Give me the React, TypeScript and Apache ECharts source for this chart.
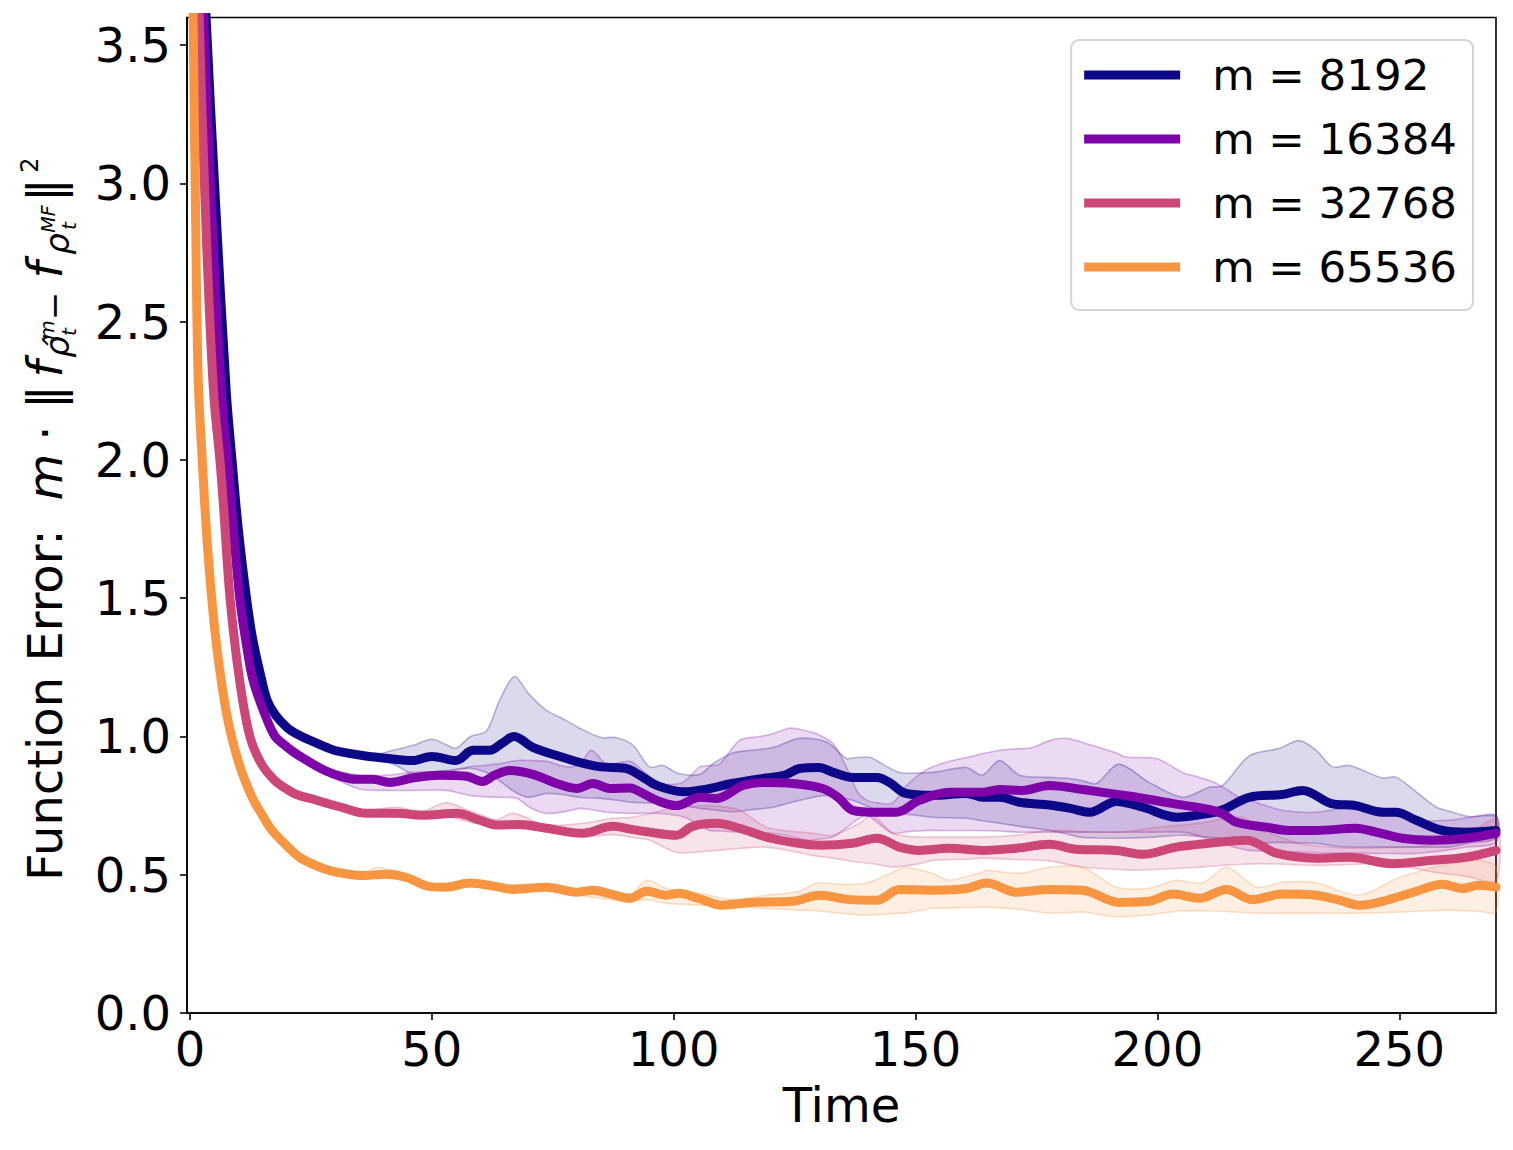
import React, { useEffect, useRef } from "react";
import * as echarts from "echarts";

// ---------- data ----------
const SERIES_NAMES = ["m = 8192", "m = 16384", "m = 32768", "m = 65536"];
const COLORS = ["#0d0887", "#7e03a8", "#cc4778", "#f89540"];
const X_TICKS = [0, 50, 100, 150, 200, 250];
const Y_TICKS = [0, 0.5, 1, 1.5, 2, 2.5, 3, 3.5];

// mean curves: [time, error]
const MEAN_8192 = [
  [0, 5.0], [2, 4.15], [3.35, 3.6], [5.3, 2.93], [7.5, 2.25], [8.7, 2.0], [10, 1.75], [11.7, 1.5],
  [13, 1.35], [14.9, 1.2], [16, 1.13], [17.6, 1.08], [20.2, 1.03], [22, 1.01], [25, 0.985],
  [29, 0.955], [31, 0.945], [36, 0.93], [41, 0.92], [46, 0.913], [50, 0.928], [55, 0.913],
  [58.5, 0.95], [62, 0.95], [64.5, 0.975], [67, 1.0], [71, 0.96], [77, 0.925], [82, 0.9],
  [85, 0.89], [90, 0.885], [93, 0.86], [96.5, 0.823], [102, 0.8], [107, 0.81], [112, 0.83],
  [119, 0.85], [123, 0.86], [126, 0.884], [130, 0.888], [133, 0.87], [137, 0.852], [142, 0.852],
  [144.6, 0.834], [148, 0.794], [153.5, 0.787], [160.5, 0.794], [164, 0.78], [167.4, 0.78],
  [171.5, 0.762], [177.7, 0.752], [182, 0.74], [186, 0.726], [191.5, 0.765], [197, 0.744],
  [204, 0.708], [210, 0.72], [213.5, 0.735], [219, 0.78], [225.8, 0.79], [230, 0.805],
  [236, 0.757], [241, 0.75], [246.5, 0.726], [249.3, 0.726], [253.5, 0.697], [259, 0.66],
  [264, 0.654], [270, 0.66],
];
const MEAN_16384 = [
  [0, 5.0], [1.5, 4.25], [2.85, 3.6], [4.4, 2.93], [6.6, 2.22], [7.8, 2.0], [9, 1.75], [10.3, 1.5],
  [11.7, 1.33], [13.1, 1.2], [15.5, 1.08], [17.6, 1.0], [19.5, 0.97], [21.7, 0.94], [24.5, 0.91],
  [27.9, 0.877], [31.3, 0.855], [34.4, 0.845], [37.8, 0.845], [41.3, 0.834], [46, 0.85],
  [51.6, 0.86], [57.2, 0.856], [60.5, 0.837], [63, 0.86], [66.1, 0.877], [70.9, 0.863],
  [75.8, 0.83], [80, 0.812], [83.3, 0.83], [86.8, 0.812], [91, 0.814], [93, 0.8], [96.5, 0.769],
  [100.6, 0.75], [105.4, 0.78], [108.9, 0.776], [114.3, 0.823], [119.2, 0.834], [124.6, 0.83],
  [130.8, 0.812], [134, 0.78], [137, 0.733], [142, 0.726], [146, 0.726], [150.8, 0.769],
  [157, 0.798], [163.8, 0.798], [167.4, 0.808], [172.1, 0.805], [177.7, 0.823], [184.5, 0.808],
  [194.8, 0.783], [203, 0.758], [210.7, 0.736], [213.5, 0.72], [216.3, 0.69], [222.5, 0.672],
  [227.3, 0.66], [232.8, 0.66], [241, 0.668], [245.2, 0.654], [250.6, 0.632], [256.8, 0.625],
  [263.8, 0.632], [270, 0.65],
];
const MEAN_32768 = [
  [0, 5.0], [1, 4.3], [2, 3.55], [3, 3.0], [4, 2.55], [5, 2.22], [6.2, 2.0], [7, 1.82], [8.3, 1.5],
  [10.3, 1.2], [12.4, 1.0], [14.8, 0.9], [17.6, 0.84], [20, 0.81], [22, 0.79], [25.1, 0.775],
  [28, 0.76], [31.3, 0.744], [36.5, 0.722], [42.7, 0.722], [48.1, 0.715], [55.2, 0.722],
  [60, 0.697], [63.4, 0.68], [68.2, 0.682], [73.7, 0.668], [81.2, 0.65], [87.4, 0.675],
  [91, 0.665], [95, 0.654], [100.6, 0.643], [103.9, 0.675], [108.9, 0.686], [113.6, 0.668],
  [119.2, 0.636], [124.6, 0.617], [130.2, 0.607], [137, 0.614], [142, 0.632], [146.7, 0.6],
  [150.8, 0.588], [157, 0.596], [163.8, 0.588], [170.9, 0.596], [177.7, 0.61], [183.2, 0.592],
  [191.5, 0.588], [197, 0.574], [203.9, 0.6], [210.7, 0.614], [218.4, 0.625], [224.6, 0.578],
  [232.8, 0.56], [239.7, 0.563], [248.6, 0.54], [256.8, 0.552], [263.8, 0.563], [270, 0.588],
];
const MEAN_65536 = [
  [0, 4.5], [0.66, 3.6], [1.14, 2.93], [1.7, 2.3], [2.55, 2.0], [3.5, 1.72], [4.5, 1.5],
  [5.5, 1.33], [6.5, 1.2], [7.5, 1.09], [8.6, 1.0], [10, 0.91], [11.4, 0.84], [13, 0.775],
  [14.8, 0.72], [17, 0.66], [20.3, 0.6], [22.5, 0.565], [25.1, 0.54], [28, 0.52], [31, 0.507],
  [35.8, 0.497], [40.7, 0.502], [44.8, 0.49], [49.6, 0.457], [53, 0.455], [57.8, 0.47],
  [63.4, 0.457], [66.8, 0.447], [73.7, 0.455], [80, 0.437], [83.3, 0.444], [87, 0.43],
  [91, 0.415], [94.4, 0.44], [98.5, 0.426], [101, 0.433], [105, 0.415], [110, 0.39],
  [115.7, 0.4], [124.6, 0.404], [130.2, 0.426], [136.4, 0.41], [142, 0.408], [146.7, 0.447],
  [153.5, 0.444], [160.5, 0.45], [164.7, 0.47], [170.9, 0.437], [177.7, 0.447], [184.5, 0.444],
  [192.1, 0.4], [198.3, 0.404], [203.1, 0.43], [208.7, 0.415], [214.3, 0.447], [219.6, 0.41],
  [225.8, 0.43], [232.8, 0.426], [237.6, 0.408], [241.7, 0.39], [246.5, 0.404], [253.5, 0.44],
  [258.9, 0.466], [263, 0.45], [266.5, 0.462], [270, 0.455],
];

// spread bands: [time, lower, upper]
const BAND_8192 = [
  [17, 1.07, 1.09], [20, 1.02, 1.04], [30, 0.94, 0.96], [38, 0.915, 0.935], [42, 0.9, 0.95],
  [46, 0.866, 0.967], [50, 0.87, 0.99], [53, 0.877, 0.97], [55, 0.88, 0.957], [58, 0.885, 1.0],
  [61.3, 0.87, 1.02], [64, 0.84, 1.13], [67.1, 0.8, 1.217], [70, 0.78, 1.155], [73.7, 0.794, 1.094],
  [77, 0.79, 1.065], [80.6, 0.78, 1.03], [85, 0.776, 0.996], [88, 0.77, 0.996], [91.5, 0.762, 0.97],
  [95, 0.76, 0.89], [97.8, 0.758, 0.895], [101, 0.752, 0.866], [105.4, 0.74, 0.863], [108, 0.735, 0.9],
  [112.2, 0.728, 0.94], [116, 0.735, 0.95], [120.5, 0.744, 0.96], [126, 0.769, 0.993],
  [131.6, 0.787, 0.98], [135.7, 0.775, 0.92], [137, 0.769, 0.922], [140.5, 0.745, 0.925],
  [143.2, 0.722, 0.9], [146.7, 0.722, 0.87], [153.5, 0.708, 0.87], [160.5, 0.704, 0.888],
  [163.8, 0.695, 0.86], [167.4, 0.686, 0.913], [171.5, 0.675, 0.86], [177.7, 0.66, 0.852],
  [181.8, 0.645, 0.848], [184.5, 0.635, 0.84], [187.4, 0.633, 0.83], [192, 0.632, 0.9],
  [198.3, 0.635, 0.834], [205.2, 0.643, 0.78], [210.7, 0.635, 0.816], [213.5, 0.632, 0.823],
  [219, 0.614, 0.93], [225.2, 0.617, 0.957], [229.3, 0.615, 0.985], [232.8, 0.614, 0.95],
  [236.2, 0.605, 0.89], [239.7, 0.6, 0.895], [246.5, 0.6, 0.85], [249.3, 0.6, 0.853],
  [253.5, 0.6, 0.8], [257.6, 0.6, 0.745], [260.3, 0.6, 0.73], [264.5, 0.615, 0.71], [270, 0.632, 0.71],
];
const BAND_16384 = [
  [17, 1.01, 1.03], [20, 0.95, 0.98], [28, 0.865, 0.89], [35.1, 0.81, 0.86], [40.7, 0.805, 0.86],
  [46, 0.805, 0.87], [53, 0.805, 0.875], [57.8, 0.787, 0.89], [63.4, 0.78, 0.9], [67.6, 0.776, 0.913],
  [70.2, 0.744, 0.913], [73.7, 0.722, 0.91], [78, 0.73, 0.89], [80.6, 0.74, 0.9], [83, 0.735, 0.95],
  [86.2, 0.726, 0.9], [91, 0.722, 0.91], [94, 0.722, 0.87], [97, 0.722, 0.83], [101.9, 0.71, 0.834],
  [105.4, 0.68, 0.89], [107.4, 0.66, 0.895], [109.5, 0.658, 0.9], [113.6, 0.654, 0.985],
  [117.8, 0.652, 1.0], [120.5, 0.65, 1.01], [124, 0.64, 1.03], [127.5, 0.625, 1.02],
  [129.5, 0.628, 1.01], [132.9, 0.636, 0.975], [135.7, 0.67, 0.89], [138, 0.7, 0.8],
  [139.9, 0.715, 0.77], [142, 0.69, 0.76], [145.3, 0.65, 0.76], [148, 0.655, 0.82],
  [152.3, 0.66, 0.88], [157, 0.66, 0.91], [160.5, 0.66, 0.924], [167.4, 0.658, 0.95],
  [170.9, 0.654, 0.955], [174.2, 0.654, 0.96], [177.7, 0.654, 0.985], [181.2, 0.654, 0.993],
  [186.6, 0.654, 0.967], [191.5, 0.654, 0.94], [193.6, 0.654, 0.925], [199.8, 0.654, 0.92],
  [205.2, 0.654, 0.87], [208.7, 0.64, 0.852], [212.2, 0.62, 0.83], [217, 0.595, 0.78],
  [219, 0.588, 0.77], [225.8, 0.584, 0.733], [232.8, 0.58, 0.726], [239.7, 0.578, 0.744],
  [246.5, 0.577, 0.74], [253.5, 0.577, 0.697], [260.3, 0.59, 0.697], [263.8, 0.6, 0.705],
  [270, 0.617, 0.715],
];
const BAND_32768 = [
  [17, 0.84, 0.86], [20, 0.8, 0.82], [30, 0.74, 0.76], [36.5, 0.712, 0.735], [42.7, 0.712, 0.744],
  [48, 0.705, 0.73], [53, 0.71, 0.76], [58, 0.69, 0.73], [63.4, 0.67, 0.7], [66.8, 0.67, 0.722],
  [73.7, 0.655, 0.68], [81.2, 0.638, 0.686], [87.4, 0.645, 0.704], [91.5, 0.635, 0.708],
  [95, 0.625, 0.72], [100.6, 0.581, 0.744], [107.4, 0.586, 0.75], [113.6, 0.595, 0.733],
  [119.2, 0.6, 0.672], [126, 0.58, 0.654], [128.7, 0.57, 0.65], [132.9, 0.56, 0.643],
  [138.4, 0.545, 0.686], [141.1, 0.54, 0.715], [145.3, 0.528, 0.65], [150.8, 0.54, 0.636],
  [153.5, 0.552, 0.636], [160.5, 0.556, 0.636], [163.8, 0.56, 0.636], [170.9, 0.555, 0.643],
  [177.7, 0.55, 0.66], [184.5, 0.527, 0.656], [191.5, 0.52, 0.654], [195.7, 0.516, 0.66],
  [198.3, 0.518, 0.668], [208.7, 0.527, 0.686], [210, 0.53, 0.69], [217.6, 0.538, 0.708],
  [221.7, 0.54, 0.66], [229.3, 0.536, 0.614], [232.8, 0.534, 0.605], [239.7, 0.537, 0.596],
  [246.5, 0.54, 0.598], [253.5, 0.522, 0.6], [256.8, 0.51, 0.61], [263.8, 0.495, 0.643],
  [270, 0.48, 0.697],
];
const BAND_65536 = [
  [17, 0.65, 0.67], [20, 0.59, 0.61], [30, 0.5, 0.52], [36, 0.488, 0.51], [39, 0.49, 0.527],
  [44, 0.48, 0.505], [50, 0.447, 0.465], [57.8, 0.46, 0.48], [63.4, 0.447, 0.465],
  [73.7, 0.445, 0.465], [80, 0.427, 0.447], [84.7, 0.415, 0.455], [91, 0.405, 0.43],
  [94.4, 0.41, 0.48], [98.5, 0.397, 0.45], [105.4, 0.39, 0.433], [112.2, 0.383, 0.41],
  [119.2, 0.378, 0.426], [126, 0.372, 0.44], [129.5, 0.37, 0.47], [135, 0.36, 0.465],
  [139.9, 0.354, 0.47], [146.7, 0.361, 0.52], [148.1, 0.362, 0.527], [153.5, 0.379, 0.505],
  [157, 0.38, 0.48], [163.8, 0.383, 0.51], [164.7, 0.383, 0.516], [171.5, 0.375, 0.505],
  [177.7, 0.361, 0.527], [184.5, 0.365, 0.527], [191.5, 0.348, 0.455], [198.3, 0.355, 0.451],
  [203.9, 0.368, 0.48], [209.3, 0.37, 0.47], [214.3, 0.367, 0.527], [220.5, 0.361, 0.455],
  [225.8, 0.361, 0.473], [232.8, 0.361, 0.47], [241.7, 0.361, 0.426], [250, 0.365, 0.49],
  [260.3, 0.372, 0.54], [266.5, 0.368, 0.552], [270, 0.365, 0.527],
];

const MEANS = [MEAN_8192, MEAN_16384, MEAN_32768, MEAN_65536];
const BANDS = [BAND_8192, BAND_16384, BAND_32768, BAND_65536];

const FONT = "DejaVu Sans";

function rgba(hex: string, a: number) {
  const n = parseInt(hex.slice(1), 16);
  return `rgba(${(n >> 16) & 255},${(n >> 8) & 255},${n & 255},${a})`;
}

// y-axis label pieces: screen y centre, screen x baseline, size, italic
type Piece = { text: string; cy: number; bx: number; size: number; italic?: boolean; left?: boolean };
const YLABEL: Piece[] = [
  { text: "Function Error: ", cy: 881, bx: 62, size: 48, left: true },
  { text: "m", cy: 477, bx: 62, size: 48, italic: true },
  { text: "·", cy: 433, bx: 62, size: 48 },
  { text: "‖", cy: 397, bx: 62, size: 48 },
  { text: "f", cy: 369, bx: 62, size: 48, italic: true },
  { text: "ρ\u0302", cy: 347, bx: 69, size: 34, italic: true },
  { text: "m", cy: 330, bx: 54, size: 20, italic: true },
  { text: "t", cy: 332, bx: 76, size: 20, italic: true },
  { text: "−", cy: 306, bx: 66, size: 34 },
  { text: "f", cy: 270, bx: 62, size: 48, italic: true },
  { text: "ρ", cy: 244, bx: 69, size: 34, italic: true },
  { text: "MF", cy: 219, bx: 55, size: 19, italic: true },
  { text: "t", cy: 226, bx: 76, size: 20, italic: true },
  { text: "‖", cy: 190, bx: 62, size: 48 },
  { text: "2", cy: 165, bx: 38, size: 24 },
];

export default function App() {
  const ref = useRef<HTMLDivElement>(null);
  useEffect(() => {
    if (!ref.current) return;
    const chart = echarts.init(ref.current, null, { renderer: "svg" });

    const bandSeries = BANDS.map((band, i) => ({
      type: "custom",
      name: SERIES_NAMES[i] + " band",
      silent: true,
      z: 1,
      data: band,
      renderItem: (params: any, api: any) => {
        if (params.dataIndex !== 0) return null;
        const up = band.map((p) => api.coord([p[0], p[2]]));
        const lo = band.slice().reverse().map((p) => api.coord([p[0], p[1]]));
        return {
          type: "polygon",
          shape: { points: up.concat(lo), smooth: 0.3 },
          style: { fill: rgba(COLORS[i], 0.15), stroke: rgba(COLORS[i], 0.28), lineWidth: 1.6 },
        };
      },
    }));

    const lineSeries = MEANS.map((d, i) => ({
      type: "line",
      name: SERIES_NAMES[i],
      data: d,
      showSymbol: false,
      smooth: 0.35,
      z: 2 + i,
      clip: true,
      color: COLORS[i],
      lineStyle: { width: 9, color: COLORS[i], cap: "round", join: "round" },
    }));

    const labelChildren = YLABEL.map((p) => ({
      type: "text",
      x: -p.cy,
      y: p.bx - 0.346 * p.size,
      style: {
        text: p.text,
        fontSize: p.size,
        fontFamily: FONT,
        fontStyle: p.italic ? "italic" : "normal",
        fill: "#000",
        align: p.left ? "left" : "center",
        textAlign: p.left ? "left" : "center",
        verticalAlign: "middle",
        textVerticalAlign: "middle",
      },
    }));

    chart.setOption({
      animation: false,
      backgroundColor: "#fff",
      textStyle: { fontFamily: FONT },
      grid: {
        left: 187,
        right: 17,
        top: 17.5,
        bottom: 137,
        show: true,
        borderColor: "#000",
        borderWidth: 1.6,
        backgroundColor: "transparent",
      },
      legend: {
        data: SERIES_NAMES,
        orient: "vertical",
        right: 40,
        top: 40,
        icon: "rect",
        itemWidth: 96,
        itemHeight: 9,
        itemGap: 14,
        padding: [10, 16, 18, 13],
        backgroundColor: "rgba(255,255,255,0.8)",
        borderColor: "#d4d4d4",
        borderWidth: 2,
        borderRadius: 8,
        selectedMode: false,
        textStyle: {
          fontSize: 43.5,
          fontFamily: FONT,
          color: "#000",
          lineHeight: 50,
          padding: [0, 0, 0, 27],
        },
      },
      xAxis: {
        type: "value",
        min: -0.6,
        max: 270,
        name: "Time",
        nameLocation: "middle",
        nameGap: 68,
        nameTextStyle: { fontSize: 48, fontFamily: FONT, color: "#000" },
        axisLine: { show: true, onZero: false, lineStyle: { color: "#000", width: 1.6 } },
        axisTick: { show: true, inside: false, length: 7, lineStyle: { color: "#000", width: 1.6 }, customValues: X_TICKS },
        axisLabel: { fontSize: 48, fontFamily: FONT, color: "#000", margin: 12, customValues: X_TICKS, formatter: (v: number) => String(v) },
        splitLine: { show: false },
      },
      yAxis: {
        type: "value",
        min: 0,
        max: 3.6,
        axisLine: { show: true, onZero: false, lineStyle: { color: "#000", width: 1.6 } },
        axisTick: { show: true, inside: false, length: 7, lineStyle: { color: "#000", width: 1.6 }, customValues: Y_TICKS },
        axisLabel: { fontSize: 48, fontFamily: FONT, color: "#000", margin: 16, customValues: Y_TICKS, formatter: (v: number) => v.toFixed(1) },
        splitLine: { show: false },
      },
      graphic: [
        {
          type: "group",
          x: 0,
          y: 0,
          rotation: Math.PI / 2,
          children: labelChildren,
        },
      ],
      series: [...bandSeries, ...lineSeries],
    });
    return () => chart.dispose();
  }, []);
  return <div ref={ref} style={{ position: "absolute", left: 0, top: 0, width: 1513, height: 1150 }} />;
}
